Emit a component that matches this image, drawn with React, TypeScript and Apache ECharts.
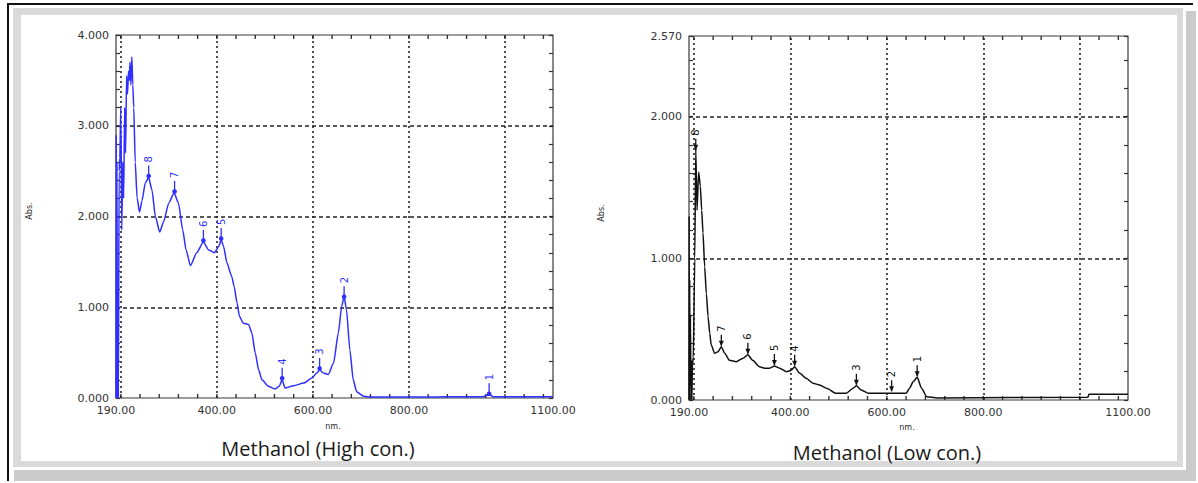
import React, { useEffect, useRef } from "react";
import * as echarts from "echarts";

// ---------- data ----------
const highWavelength = [
  190, 190.5, 191, 192, 193, 194, 195, 196.5, 198, 200, 202, 204, 206, 208, 210, 212, 214, 216, 218, 219,
  221, 223, 225, 227, 230, 234, 239, 244, 251, 258, 265, 272, 281, 289, 300, 311, 320, 329, 336, 345,
  358, 372, 383, 395, 404, 409, 414, 421, 431, 436, 442, 447, 455, 466, 473, 480, 487, 494, 507, 521,
  530, 536, 542, 560, 581, 598, 608, 614, 622, 632, 643, 653, 660, 665, 670, 677, 684, 691, 705, 723,
  850, 900, 955, 962, 970, 975, 1100,
];
const highAbs = [
  0.0, 2.9, 0.0, 2.6, 0.0, 0.95, 0.0, 2.5, 2.65, 3.2, 1.85, 2.6, 2.2, 3.2, 2.7, 3.55, 3.35, 3.6, 3.5, 3.7,
  3.45, 3.76, 3.45, 3.2, 2.6, 2.2, 2.05, 2.17, 2.37, 2.43, 2.29, 2.0, 1.83, 1.94, 2.15, 2.26, 2.15, 1.85, 1.63, 1.46,
  1.6, 1.72, 1.63, 1.6, 1.67, 1.74, 1.67, 1.49, 1.34, 1.23, 1.05, 0.9, 0.825, 0.81, 0.715, 0.495, 0.31, 0.2, 0.13, 0.1,
  0.13, 0.2, 0.11, 0.135, 0.165, 0.22, 0.275, 0.31, 0.275, 0.26, 0.385, 0.715, 1.01, 1.12, 0.97, 0.53, 0.2, 0.07, 0.02, 0.01,
  0.01, 0.015, 0.015, 0.03, 0.03, 0.015, 0.015,
];
const highPeakLabels = ["1", "2", "3", "4", "5", "6", "7", "8"];
const highPeakWavelength = [967, 665, 614, 536, 409, 372, 312, 258];
const highPeakAbs = [0.03, 1.1, 0.31, 0.2, 1.74, 1.72, 2.26, 2.43];

const lowWavelength = [
  190, 190.3, 190.8, 191.5, 192, 193, 194, 195, 196, 197, 199, 200, 202, 204, 206.6, 210, 213.5, 216.3, 219, 222.5,
  226, 229.5, 233, 236, 243, 250, 257, 264, 274, 288, 302, 312, 322, 336, 347, 357, 367, 378, 392, 402,
  409, 419, 433, 447, 461, 475, 495, 516, 530, 537, 547, 562, 590, 640, 647, 655, 663, 672, 683, 704,
  1017, 1019, 1100,
];
const lowAbs = [
  0.0, 1.3, 0.0, 0.85, 0.1, 0.6, 0.0, 0.28, 0.0, 0.25, 0.3, 0.3, 1.0, 1.78, 1.34, 1.61, 1.51, 1.34, 1.18, 0.94,
  0.75, 0.59, 0.47, 0.39, 0.33, 0.34, 0.376, 0.33, 0.28, 0.27, 0.295, 0.32, 0.28, 0.235, 0.225, 0.225, 0.24, 0.225, 0.2, 0.21,
  0.235, 0.19, 0.153, 0.118, 0.106, 0.083, 0.047, 0.047, 0.083, 0.1, 0.071, 0.047, 0.047, 0.047, 0.083, 0.13, 0.16, 0.083, 0.023, 0.015,
  0.02, 0.04, 0.04,
];
const lowPeakLabels = ["1", "2", "3", "4", "5", "6", "7", "8"];
const lowPeakWavelength = [663, 610, 537, 409, 367, 312, 257, 204];
const lowPeakAbs = [0.16, 0.055, 0.1, 0.235, 0.24, 0.32, 0.376, 1.76];

const xMin = 190;
const xMax = 1100;
const xLabelValues = [190, 400, 600, 800, 1100];
const xGridValues = [200, 400, 600, 800, 1000];
const xMinorTicks = [
  200, 240, 280, 320, 360, 400, 440, 480, 520, 560, 600, 640, 680, 720, 760, 800,
  840, 880, 920, 960, 1000, 1040, 1080,
];
const highYMax = 4;
const lowYMax = 2.57;
const highYGrid = [1, 2, 3];
const lowYGrid = [1, 2];
const yTickStep = 0.2;

const FONT = '"DejaVu Sans", sans-serif';

function App() {
  const ref = useRef<HTMLDivElement>(null);

  useEffect(() => {
    if (!ref.current) return;
    const chart = echarts.init(ref.current, null, { renderer: "svg" });

    const zip = (xs: number[], ys: number[]) => xs.map((x, i) => [x, ys[i]]);

    const grids = [
      { left: 116, top: 35, width: 437, height: 363 },
      { left: 689, top: 36, width: 439, height: 364 },
    ];
    const yMaxes = [highYMax, lowYMax];

    const xAxes: any[] = grids.map((_, i) => ({
      type: "value",
      gridIndex: i,
      min: xMin,
      max: xMax,
      interval: 10,
      splitLine: { show: false },
      axisLine: { show: false },
      axisTick: { show: false },
      axisLabel: {
        show: true,
        margin: 7,
        color: "#333",
        fontFamily: FONT,
        fontSize: 11,
        formatter: (v: number) => (xLabelValues.indexOf(Math.round(v)) >= 0 && Math.abs(v - Math.round(v)) < 1e-6 ? v.toFixed(2) : ""),
      },
    }));

    const yAxes: any[] = [];
    grids.forEach((_, i) => {
      const ymax = yMaxes[i];
      const fmt = (v: number) =>
        Math.abs(v - Math.round(v)) < 1e-6 || Math.abs(v - ymax) < 1e-6 ? v.toFixed(3) : "";
      yAxes.push({
        type: "value",
        gridIndex: i,
        position: "left",
        min: 0,
        max: ymax,
        interval: yTickStep,
        splitLine: { show: false },
        axisLine: { show: false },
        axisTick: { show: true, inside: true, length: 4, lineStyle: { color: "#333", width: 1.2 } },
        axisLabel: { show: true, margin: 7, color: "#333", fontFamily: FONT, fontSize: 11, formatter: fmt },
      });
      yAxes.push({
        type: "value",
        gridIndex: i,
        position: "right",
        min: 0,
        max: ymax,
        interval: yTickStep,
        splitLine: { show: false },
        axisLine: { show: false },
        axisTick: { show: true, inside: true, length: 4, lineStyle: { color: "#333", width: 1.2 } },
        axisLabel: { show: false },
      });
    });

    const gridMarkLine = (yGrid: number[]) => ({
      silent: true,
      symbol: "none",
      label: { show: false },
      animation: false,
      data: [
        ...xGridValues.map((v) => ({ xAxis: v, lineStyle: { type: [2, 3], color: "#222", width: 1.6 } })),
        ...yGrid.map((v) => ({ yAxis: v, lineStyle: { type: [4, 3], color: "#222", width: 1.6 } })),
      ],
    });

    const tickSeries = (i: number) => ({
      type: "custom",
      xAxisIndex: i,
      yAxisIndex: i * 2,
      silent: true,
      z: 4,
      data: xMinorTicks.map((v) => [v, 0]),
      renderItem: (_p: any, api: any) => {
        const x = api.value(0);
        const b = api.coord([x, 0]);
        const t = api.coord([x, yMaxes[i]]);
        return {
          type: "group",
          children: [
            { type: "line", shape: { x1: b[0], y1: b[1], x2: b[0], y2: b[1] - 4 }, style: { stroke: "#333", lineWidth: 1.4 } },
            { type: "line", shape: { x1: t[0], y1: t[1], x2: t[0], y2: t[1] + 4 }, style: { stroke: "#333", lineWidth: 1.4 } },
          ],
        };
      },
    });

    const peakSeries = (i: number, xs: number[], ys: number[], labels: string[], color: string, arrow: boolean) => ({
      type: "custom",
      xAxisIndex: i,
      yAxisIndex: i * 2,
      silent: true,
      z: 6,
      data: zip(xs, ys),
      renderItem: (params: any, api: any) => {
        const p = api.coord([api.value(0), api.value(1)]);
        const label = labels[params.dataIndex];
        const children: any[] = [
          { type: "line", shape: { x1: p[0], y1: p[1] - 1, x2: p[0], y2: p[1] - 12 }, style: { stroke: color, lineWidth: 1.3 } },
        ];
        if (arrow) {
          children.push({
            type: "polygon",
            shape: { points: [[p[0] - 2.5, p[1] - 6], [p[0] + 2.5, p[1] - 6], [p[0], p[1] - 0.5]] },
            style: { fill: color },
          });
        } else {
          children.push({ type: "circle", shape: { cx: p[0], cy: p[1] - 1.5, r: 2.3 }, style: { fill: color } });
        }
        children.push({
          type: "text",
          x: p[0],
          y: p[1] - 15,
          rotation: Math.PI / 2,
          style: { text: label, fill: color, font: `10px ${FONT}`, align: "left", verticalAlign: "middle" },
        });
        return { type: "group", children };
      },
    });

    const blue = "#2f2fff";
    const black = "#111111";

    const txt = (text: string, x: number, y: number, size: number, opts: any = {}) => ({
      type: "text",
      x,
      y,
      rotation: opts.rotation || 0,
      z: 10,
      style: {
        text,
        fill: opts.color || "#2a2a2a",
        font: `${opts.weight || "normal"} ${size}px ${opts.family || FONT}`,
        align: "center",
        verticalAlign: "middle",
      },
    });

    chart.setOption({
      animation: false,
      backgroundColor: "#ffffff",
      grid: grids.map((g) => ({ ...g, show: true, borderColor: "#3a3a3a", borderWidth: 1.2, backgroundColor: "transparent" })),
      xAxis: xAxes,
      yAxis: yAxes,
      graphic: [
        { type: "rect", z: -10, shape: { x: 7, y: 3, width: 1186, height: 2 }, style: { fill: "#111" } },
        { type: "rect", z: -10, shape: { x: 7, y: 3, width: 2, height: 478 }, style: { fill: "#111" } },
        { type: "rect", z: -10, shape: { x: 1186, y: 11, width: 10, height: 470 }, style: { fill: "#cbcbcb" } },
        { type: "rect", z: -10, shape: { x: 14, y: 470, width: 1182, height: 11 }, style: { fill: "#cbcbcb" } },
        { type: "rect", z: -9, shape: { x: 13, y: 8, width: 1170, height: 459 }, style: { fill: "#dadada" } },
        { type: "rect", z: -8, shape: { x: 21, y: 15, width: 1156, height: 446 }, style: { fill: "#ffffff" } },
        txt("Abs.", 29, 211, 8, { rotation: Math.PI / 2 }),
        txt("Abs.", 601, 213, 8, { rotation: Math.PI / 2 }),
        txt("nm.", 333, 426, 8),
        txt("nm.", 907, 427, 8),
        txt("Methanol (High con.)", 318, 448, 20, { family: '"Open Sans", sans-serif', color: "#1a1a1a" }),
        txt("Methanol (Low con.)", 887, 452, 20, { family: '"Open Sans", sans-serif', color: "#1a1a1a" }),
      ],
      series: [
        {
          type: "line",
          xAxisIndex: 0,
          yAxisIndex: 0,
          data: zip(highWavelength, highAbs),
          showSymbol: false,
          smooth: 0.2,
          smoothMonotone: "x",
          lineStyle: { color: blue, width: 1.5 },
          z: 5,
          markLine: gridMarkLine(highYGrid),
        },
        {
          type: "line",
          xAxisIndex: 1,
          yAxisIndex: 2,
          data: zip(lowWavelength, lowAbs),
          showSymbol: false,
          smooth: 0.2,
          smoothMonotone: "x",
          lineStyle: { color: black, width: 1.5 },
          z: 5,
          markLine: gridMarkLine(lowYGrid),
        },
        tickSeries(0),
        tickSeries(1),
        peakSeries(0, highPeakWavelength, highPeakAbs, highPeakLabels, blue, false),
        peakSeries(1, lowPeakWavelength, lowPeakAbs, lowPeakLabels, black, true),
      ],
    });

    return () => chart.dispose();
  }, []);

  return (
    <div
      ref={ref}
      style={{ position: "absolute", left: 0, top: 0, width: 1198, height: 483, background: "#fff" }}
    />
  );
}

export default App;
